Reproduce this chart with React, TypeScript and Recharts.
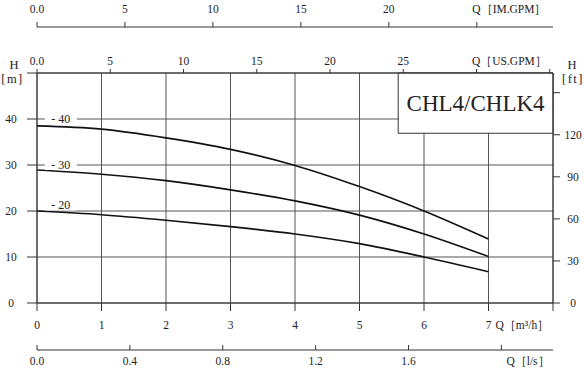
import React from 'react';
import { ComposedChart, Line, XAxis, YAxis, CartesianGrid, ReferenceArea, ReferenceDot, Label } from 'recharts';

const FONT = '"Liberation Serif", "Times New Roman", serif';
const INK = '#222';

// pump curves, Q in m3/h, H in m
const flowM3h = [0, 1, 2, 3, 4, 5, 6, 7];
const head40 = [38.5, 37.8, 35.9, 33.4, 29.9, 25.3, 20.0, 13.9];
const head30 = [28.9, 28.0, 26.6, 24.6, 22.2, 19.1, 15.0, 10.1];
const head20 = [20.0, 19.2, 18.0, 16.6, 15.0, 12.9, 10.0, 6.8];

const m3hTicks = [0, 1, 2, 3, 4, 5, 6, 7, 8];
const lsTicks = [0, 0.4, 0.8, 1.2, 1.6, 2.0];
const usGpmTicks = [0, 5, 10, 15, 20, 25, 30, 35];
const imGpmTicks = [0, 5, 10, 15, 20, 25];
const meterTicks = [0, 10, 20, 30, 40, 50];
const feetTicks = [0, 30, 60, 90, 120, 150];

const curveTags = [
  { q: 0.37, h: 40, text: '- 40' },
  { q: 0.37, h: 30, text: '- 30' },
  { q: 0.37, h: 21.2, text: '- 20' },
];

const modelName = 'CHL4/CHLK4';

const Q_MAX = 8;
const H_MAX = 50;
const TO_LS = 1 / 3.6;
const TO_USGPM = 4.4029;
const TO_IMGPM = 3.6662;
const TO_FT = 3.28084;

// same flow in every unit, so each axis has its own key
const data = flowM3h.map((q, i) => ({
  q,
  qLs: q * TO_LS,
  qUs: q * TO_USGPM,
  qIm: q * TO_IMGPM,
  h40: head40[i],
  h30: head30[i],
  h20: head20[i],
}));

const txt = { fontFamily: FONT, fontSize: 11.5, fill: INK };

function M3hTick({ x, y, payload }: any) {
  const v = payload.value;
  if (v === Q_MAX) return <g />;
  return (
    <g>
      <text x={x} y={y} textAnchor="middle" {...txt}>{v}</text>
      {v === 7 && <text x={x + 7} y={y} {...txt}>Q［m³/h］</text>}
    </g>
  );
}

function LsTick({ x, y, payload }: any) {
  const v = payload.value;
  const last = v === lsTicks[lsTicks.length - 1];
  return (
    <g>
      <line x1={x} y1={y} x2={x} y2={y - 5} stroke="#333" />
      {last ? (
        <text x={x + 5} y={y + 15} {...txt}>Q［l/s］</text>
      ) : (
        <text x={x} y={y + 15} textAnchor="middle" {...txt}>{v.toFixed(1)}</text>
      )}
    </g>
  );
}

function makeTopTick(qTick: number, unit: string) {
  return function TopTick({ x, y, payload }: any) {
    const v = payload.value;
    if (v === qTick) return <text x={x - 4.5} y={y} {...txt}>{`Q［${unit}］`}</text>;
    if (v > qTick) return <g />;
    return <text x={x} y={y} textAnchor="middle" {...txt}>{v === 0 ? '0.0' : v}</text>;
  };
}
const UsTick = makeTopTick(30, 'US.GPM');
const ImTick = makeTopTick(25, 'IM.GPM');

function MeterTick({ x, y, payload }: any) {
  const v = payload.value;
  if (v === H_MAX) {
    return (
      <g>
        <text x={x + 3} y={y - 4} textAnchor="middle" {...txt} fontSize={12.5}>H</text>
        <text x={x + 1.5} y={y + 10} textAnchor="middle" {...txt} fontSize={12.5} letterSpacing={1.5}>[m]</text>
      </g>
    );
  }
  return <text x={x} y={y + 4} textAnchor="middle" {...txt}>{v}</text>;
}

function FeetTick({ x, y, payload }: any) {
  const v = payload.value;
  if (v === 150) return <g />;
  return <text x={x} y={y + 4} textAnchor="middle" {...txt}>{v}</text>;
}

function FeetUnit(props: any) {
  const vb = props.viewBox || {};
  return (
    <g>
      <text x={vb.x + 19} y={vb.y - 4} textAnchor="middle" {...txt} fontSize={12.5}>H</text>
      <text x={vb.x + 20} y={vb.y + 10} textAnchor="middle" {...txt} fontSize={12.5} letterSpacing={1.5}>[ft]</text>
    </g>
  );
}

function CurveTag({ cx, cy, text }: any) {
  return (
    <g>
      <rect x={cx - 16} y={cy - 5} width={32} height={10} fill="#fff" />
      <text x={cx} y={cy + 4} textAnchor="middle" {...txt} fontSize={12}>{text}</text>
    </g>
  );
}

export default function App() {
  return (
    <div style={{ position: 'absolute', left: 0, top: 0, background: '#fff' }}>
      <ComposedChart width={585} height={370} data={data} margin={{ top: 0, right: 0, bottom: 0, left: 0 }}>
        <CartesianGrid xAxisId="a_m3h" yAxisId="m" stroke="#555" />
        <ReferenceArea
          xAxisId="a_m3h"
          yAxisId="m"
          x1={5.6}
          x2={Q_MAX}
          y1={36.9}
          y2={H_MAX}
          fill="#fff"
          fillOpacity={1}
          stroke="#333"
          label={{ value: modelName, position: 'center', fontSize: 23, fontFamily: FONT, fill: INK }}
        />
        <XAxis
          xAxisId="b_ls"
          type="number"
          dataKey="qLs"
          domain={[0, Q_MAX * TO_LS]}
          allowDataOverflow
          ticks={lsTicks}
          orientation="bottom"
          height={20}
          tickSize={0}
          tickMargin={0}
          tickLine={false}
          stroke="#333"
          tick={<LsTick />}
          interval={0}
        />
        <XAxis
          xAxisId="a_m3h"
          type="number"
          dataKey="q"
          domain={[0, Q_MAX]}
          allowDataOverflow
          ticks={m3hTicks}
          orientation="bottom"
          height={47}
          tickSize={8}
          tickMargin={18}
          stroke="#333"
          tick={<M3hTick />}
          interval={0}
        />
        <XAxis
          xAxisId="b_im"
          type="number"
          dataKey="qIm"
          domain={[0, Q_MAX * TO_IMGPM]}
          allowDataOverflow
          ticks={imGpmTicks}
          orientation="top"
          height={27}
          tickSize={5}
          tickMargin={9}
          stroke="#333"
          tick={<ImTick />}
          interval={0}
        />
        <XAxis
          xAxisId="a_us"
          type="number"
          dataKey="qUs"
          domain={[0, Q_MAX * TO_USGPM]}
          allowDataOverflow
          ticks={usGpmTicks}
          orientation="top"
          height={46}
          tickSize={4}
          tickMargin={4}
          stroke="#333"
          tick={<UsTick />}
          interval={0}
        />
        <YAxis
          yAxisId="m"
          type="number"
          domain={[0, H_MAX]}
          allowDataOverflow
          ticks={meterTicks}
          width={37}
          tickSize={10}
          tickMargin={16}
          stroke="#333"
          tick={<MeterTick />}
          interval={0}
        />
        <YAxis
          yAxisId="ft"
          orientation="right"
          type="number"
          domain={[0, H_MAX * TO_FT]}
          allowDataOverflow
          ticks={feetTicks}
          width={32}
          tickSize={7}
          tickMargin={13}
          stroke="#333"
          tick={<FeetTick />}
          interval={0}
          label={<Label content={<FeetUnit />} />}
        />
        <Line xAxisId="a_m3h" yAxisId="m" type="monotone" dataKey="h40" stroke="#111" strokeWidth={1.6} dot={false} isAnimationActive={false} />
        <Line xAxisId="a_m3h" yAxisId="m" type="monotone" dataKey="h30" stroke="#111" strokeWidth={1.6} dot={false} isAnimationActive={false} />
        <Line xAxisId="a_m3h" yAxisId="m" type="monotone" dataKey="h20" stroke="#111" strokeWidth={1.6} dot={false} isAnimationActive={false} />
        {curveTags.map((t) => (
          <ReferenceDot
            key={t.text}
            xAxisId="a_m3h"
            yAxisId="m"
            x={t.q}
            y={t.h}
            r={0}
            shape={(p: any) => <CurveTag cx={p.cx} cy={p.cy} text={t.text} />}
          />
        ))}
      </ComposedChart>
    </div>
  );
}
